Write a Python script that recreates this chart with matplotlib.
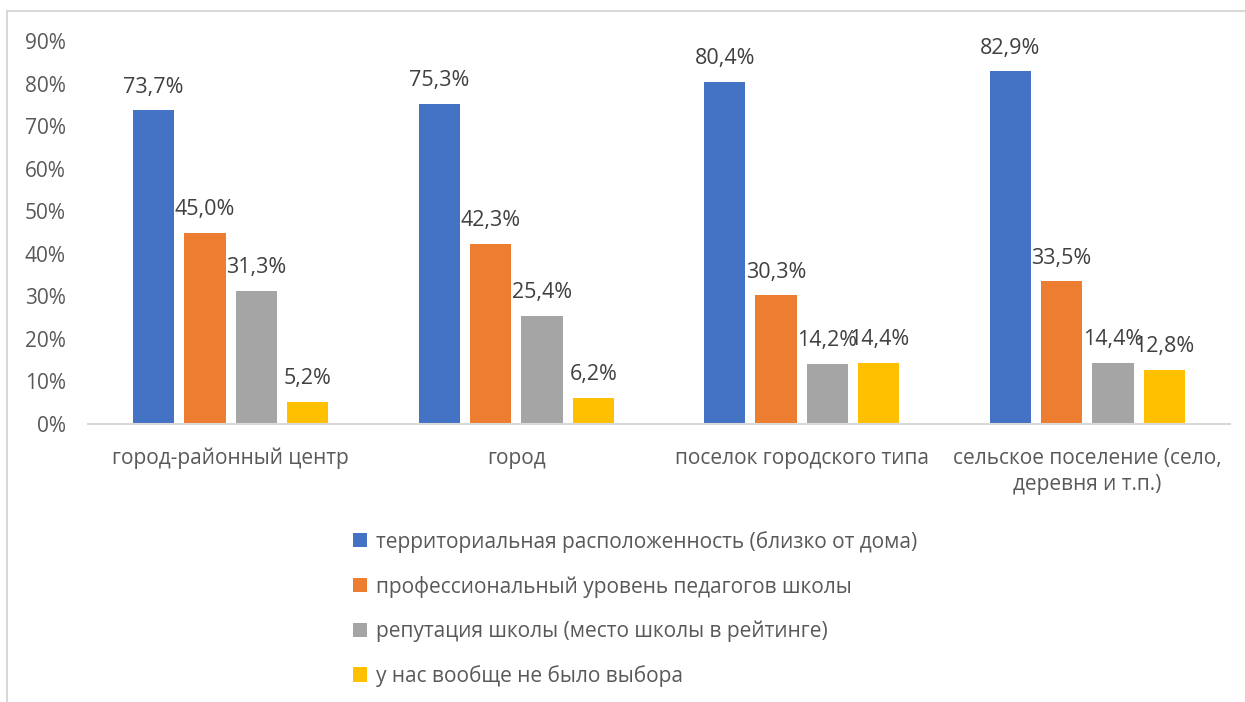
import matplotlib.pyplot as plt
import numpy as np
from matplotlib.patches import Rectangle

categories = ["город-районный центр", "город", "поселок городского типа",
              "сельское поселение (село,\nдеревня и т.п.)"]
series_names = ["территориальная расположенность (близко от дома)",
                "профессиональный уровень педагогов школы",
                "репутация школы (место школы в рейтинге)",
                "у нас вообще не было выбора"]
territory = [73.7, 75.3, 80.4, 82.9]
teachers = [45.0, 42.3, 30.3, 33.5]
reputation = [31.3, 25.4, 14.2, 14.4]
no_choice = [5.2, 6.2, 14.4, 12.8]
colors = ["#4472C4", "#ED7D31", "#A5A5A5", "#FFC000"]
yticks = list(range(0, 91, 10))

plt.rcParams['font.family'] = ['Open Sans', 'DejaVu Sans']

W, H = 1245, 702
fig = plt.figure(figsize=(W / 100, H / 100), dpi=100)

# chart border (only top and left visible in the crop)
fig.patches.append(Rectangle((7 / W, -0.1), 1.2, (H - 11) / H + 0.1,
                             transform=fig.transFigure, fill=False,
                             edgecolor="#d9d9d9", linewidth=1.5))

ax = fig.add_axes([88 / W, (H - 424) / H, (1230 - 88) / W, (424 - 41) / H])

x = np.arange(len(categories))
step = 0.18
width = 0.144
all_series = [territory, teachers, reputation, no_choice]
bars = []
for i, vals in enumerate(all_series):
    b = ax.bar(x + (i - 1.5) * step, vals, width, color=colors[i], label=series_names[i])
    bars.append(b)
    for xi, v in zip(x + (i - 1.5) * step, vals):
        ax.annotate(f"{v:.1f}%".replace(".", ","), (xi, v), xytext=(0, 9),
                    textcoords="offset points", ha="center", va="bottom",
                    fontsize=15.5, color="#404040")

ax.set_xlim(-0.5, len(categories) - 0.5)
ax.set_ylim(0, 90)
ax.set_yticks(yticks)
ax.set_yticklabels([f"{t}%" for t in yticks], fontsize=15, color="#595959")
ax.set_xticks(x)
ax.set_xticklabels(categories, fontsize=15, color="#595959", linespacing=1.35)
ax.tick_params(axis="both", length=0)
ax.tick_params(axis="y", pad=16)
ax.tick_params(axis="x", pad=17)
for s in ["top", "right", "left"]:
    ax.spines[s].set_visible(False)
ax.spines["bottom"].set_color("#d9d9d9")
ax.spines["bottom"].set_linewidth(1.5)

leg = fig.legend(handles=bars, labels=series_names, loc="upper left",
                 bbox_to_anchor=(334 / W, (H - 512) / H), frameon=False,
                 fontsize=15, labelcolor="#595959", handlelength=0.67,
                 handleheight=0.67, handletextpad=0.45, labelspacing=1.1)

fig.savefig("out.png", dpi=100)
